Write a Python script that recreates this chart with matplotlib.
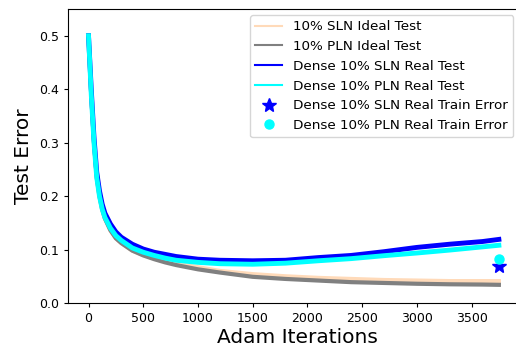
import matplotlib
matplotlib.use("Agg")
import matplotlib.pyplot as plt

iters = [0, 25, 50, 75, 100, 125, 150, 200, 250, 300, 400, 500, 600, 700, 800,
         1000, 1200, 1500, 1800, 2100, 2400, 2700, 3000, 3300, 3600, 3750]

sln_ideal = [0.50, 0.39, 0.30, 0.235, 0.20, 0.175, 0.158, 0.136, 0.121, 0.112, 0.098,
             0.090, 0.083, 0.078, 0.074, 0.067, 0.060, 0.054, 0.050, 0.047, 0.045,
             0.043, 0.042, 0.041, 0.041, 0.041]
pln_ideal = [0.50, 0.39, 0.30, 0.235, 0.20, 0.175, 0.158, 0.136, 0.121, 0.112, 0.098,
             0.089, 0.082, 0.076, 0.071, 0.063, 0.057, 0.049, 0.045, 0.042, 0.039,
             0.0375, 0.036, 0.035, 0.0345, 0.034]
sln_real = [0.50, 0.40, 0.31, 0.245, 0.21, 0.185, 0.168, 0.148, 0.133, 0.123, 0.110,
            0.101, 0.095, 0.091, 0.087, 0.082, 0.080, 0.079, 0.080, 0.085, 0.089,
            0.096, 0.104, 0.110, 0.115, 0.119]
pln_real = [0.50, 0.39, 0.30, 0.235, 0.20, 0.176, 0.160, 0.140, 0.126, 0.117, 0.103,
            0.095, 0.089, 0.084, 0.080, 0.076, 0.0735, 0.0725, 0.0745, 0.079, 0.083,
            0.0885, 0.0935, 0.099, 0.105, 0.108]
train_iter = 3750
sln_train = 0.069
pln_train = 0.082

W, H = 516, 348
fig = plt.figure(figsize=(W / 100, H / 100), dpi=100)
ax = fig.add_axes([68 / W, 1 - 303 / H, (527 - 68) / W, (303 - 9) / H])

ax.plot(iters, sln_ideal, color="peachpuff", lw=3, label="10% SLN Ideal Test")
ax.plot(iters, pln_ideal, color="gray", lw=3, label="10% PLN Ideal Test")
ax.plot(iters, sln_real, color="blue", lw=3.5, label="Dense 10% SLN Real Test")
ax.plot(iters, pln_real, color="cyan", lw=3.5, label="Dense 10% PLN Real Test")
ax.plot([train_iter], [sln_train], "*", color="blue", ms=10, lw=0,
        label="Dense 10% SLN Real Train Error")
ax.plot([train_iter], [pln_train], "o", color="cyan", ms=6.5, lw=0,
        label="Dense 10% PLN Real Train Error")

xr = (527 - 68) / 0.10943
ax.set_xlim(-187.5, -187.5 + xr)
ax.set_ylim(0, 0.55)
ax.set_xticks([0, 500, 1000, 1500, 2000, 2500, 3000, 3500])
ax.set_yticks([0.0, 0.1, 0.2, 0.3, 0.4, 0.5])
ax.tick_params(labelsize=9, length=3.2, width=0.8)
ax.set_xlabel("Adam Iterations", fontsize=14.5, labelpad=2)
ax.set_ylabel("Test Error", fontsize=14.5, labelpad=4)

leg = ax.legend(loc="upper left", bbox_to_anchor=(250 / W, 1 - 15 / H),
                bbox_transform=fig.transFigure, fontsize=9.7, borderaxespad=0)
for ln in leg.get_lines():
    if ln.get_linestyle() != "None":
        ln.set_linewidth(1.5)

fig.savefig("out.png", dpi=100)
